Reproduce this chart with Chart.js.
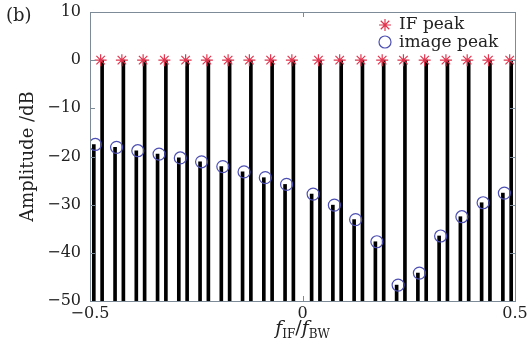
<!DOCTYPE html>
<html>
<head>
<meta charset="utf-8">
<script src="https://cdn.jsdelivr.net/npm/chart.js"></script>
<style>
  html, body { margin:0; padding:0; background:#fff; }
  #wrap { width:530px; height:349px; }
</style>
</head>
<body>
<div id="wrap"><canvas id="c" width="530" height="349"></canvas></div>
<script>
// IF peak positions (f_IF/f_BW) and levels (dB)
const ifX = [-0.475,-0.425,-0.375,-0.325,-0.275,-0.225,-0.175,-0.125,-0.075,-0.025,
             0.0375,0.0875,0.1375,0.1875,0.2375,0.2875,0.3375,0.3875,0.4375,0.4875];
const ifY = [0,0,0,0,0,0,0,0,0,0, 0,0,0,0,0,0,0,0,0,0];
// image peak positions and levels
const imgX = [-0.4875,-0.4375,-0.3875,-0.3375,-0.2875,-0.2375,-0.1875,-0.1375,-0.0875,-0.0375,
              0.025,0.075,0.125,0.175,0.225,0.275,0.325,0.375,0.425,0.475];
const imgY = [-17.5,-18.1,-18.8,-19.5,-20.3,-21.1,-22.1,-23.2,-24.4,-25.8,
              -27.8,-30.1,-33.1,-37.7,-46.7,-44.2,-36.5,-32.5,-29.6,-27.6];
const xTicks = [-0.5, 0, 0.5];
const yTicks = [10, 0, -10, -20, -30, -40, -50];

const SERIF = '"DejaVu Serif", "Liberation Serif", serif';
const axisCol = '#7d8a97';
const redCol = '#e2344e';
const blueCol = '#4d4fb3';

const toPts = (xs, ys) => xs.map((x, i) => ({x: x, y: ys[i]}));

function star(ctx, x, y, r) {
  ctx.beginPath();
  for (let k = 0; k < 4; k++) {
    const a = k * Math.PI / 4;
    ctx.moveTo(x - r*Math.cos(a), y - r*Math.sin(a));
    ctx.lineTo(x + r*Math.cos(a), y + r*Math.sin(a));
  }
  ctx.stroke();
}

const extras = {
  id: 'extras',
  afterDraw(chart) {
    const ctx = chart.ctx, a = chart.chartArea;
    const xs = chart.scales.x, ys = chart.scales.y;
    ctx.save();
    // box + inward ticks
    ctx.strokeStyle = axisCol; ctx.lineWidth = 1;
    ctx.strokeRect(a.left + 0.5, a.top + 0.5, a.right - a.left, a.bottom - a.top);
    ctx.beginPath();
    yTicks.forEach(v => {
      const p = Math.round(ys.getPixelForValue(v)) + 0.5;
      ctx.moveTo(a.left, p); ctx.lineTo(a.left + 5, p);
      ctx.moveTo(a.right, p); ctx.lineTo(a.right - 5, p);
    });
    xTicks.forEach(v => {
      const p = Math.round(xs.getPixelForValue(v)) + 0.5;
      ctx.moveTo(p, a.bottom); ctx.lineTo(p, a.bottom - 5);
      ctx.moveTo(p, a.top); ctx.lineTo(p, a.top + 5);
    });
    ctx.stroke();

    // panel label
    ctx.fillStyle = '#222';
    ctx.font = '18px ' + SERIF;
    ctx.textBaseline = 'middle';
    ctx.textAlign = 'left';
    ctx.fillText('(b)', 6, 16);

    // legend
    ctx.lineWidth = 1.2;
    ctx.strokeStyle = redCol;
    star(ctx, 385, 25, 6);
    ctx.strokeStyle = blueCol;
    ctx.beginPath(); ctx.arc(385, 42, 6, 0, Math.PI*2); ctx.stroke();
    ctx.font = '17px ' + SERIF;
    ctx.fillStyle = '#222';
    ctx.fillText('IF peak', 399, 25);
    ctx.fillText('image peak', 399, 43);

    // x title f_IF / f_BW
    const cx = (a.left + a.right) / 2, ty = 334;
    const parts = [
      {t:'f', f:'italic 19px ' + SERIF, dy:0},
      {t:'IF', f:'12px ' + SERIF, dy:4},
      {t:'/', f:'19px ' + SERIF, dy:0},
      {t:'f', f:'italic 19px ' + SERIF, dy:0},
      {t:'BW', f:'12px ' + SERIF, dy:4}
    ];
    let w = 0;
    parts.forEach(p => { ctx.font = p.f; p.w = ctx.measureText(p.t).width; w += p.w; });
    let px = cx - w/2;
    ctx.textBaseline = 'alphabetic';
    parts.forEach(p => { ctx.font = p.f; ctx.fillText(p.t, px, ty + p.dy); px += p.w; });
    ctx.restore();
  }
};

new Chart(document.getElementById('c'), {
  type: 'bar',
  data: {
    datasets: [
      { type:'scatter', label:'IF peak', data: toPts(ifX, ifY), pointStyle:'star',
        pointRadius:6, borderColor:redCol, backgroundColor:redCol, borderWidth:1.2, order:1 },
      { type:'scatter', label:'image peak', data: toPts(imgX, imgY), pointStyle:'circle',
        pointRadius:6, borderColor:blueCol, backgroundColor:'rgba(0,0,0,0)', borderWidth:1.2, order:0 },
      { label:'IF stem', data: toPts(ifX, ifY), base:-50, backgroundColor:'#000',
        barThickness:3, order:3 },
      { label:'image stem', data: toPts(imgX, imgY), base:-50, backgroundColor:'#000',
        barThickness:3, order:2 }
    ]
  },
  options: {
    responsive:false,
    animation:false,
    layout:{ padding:{ top:12, right:15, left:18, bottom:0 } },
    plugins:{ legend:{display:false}, tooltip:{enabled:false} },
    scales:{
      x:{
        type:'linear', min:-0.5, max:0.5, offset:false,
        grid:{display:false, drawTicks:false},
        border:{display:false},
        afterBuildTicks: s => { s.ticks = xTicks.map(v => ({value:v})); },
        afterFit: s => { s.height = 48; s.paddingLeft = 0; s.paddingRight = 0; },
        ticks:{ padding:3, color:'#222', font:{family:SERIF, size:16}, maxRotation:0,
          callback: v => (v < 0 ? '\u2212' + Math.abs(v) : String(v)) }
      },
      y:{
        min:-50, max:10,
        grid:{display:false, drawTicks:false},
        border:{display:false},
        afterBuildTicks: s => { s.ticks = yTicks.map(v => ({value:v})); },
        afterFit: s => { s.width = 72; s.paddingTop = 0; s.paddingBottom = 0; },
        title:{ display:true, text:'Amplitude /dB', color:'#222', font:{family:SERIF, size:18}, padding:0 },
        ticks:{ padding:9, color:'#222', font:{family:SERIF, size:16},
          callback: v => (v < 0 ? '\u2212' + Math.abs(v) : String(v)) }
      }
    }
  },
  plugins:[extras]
});
</script>
</body>
</html>
